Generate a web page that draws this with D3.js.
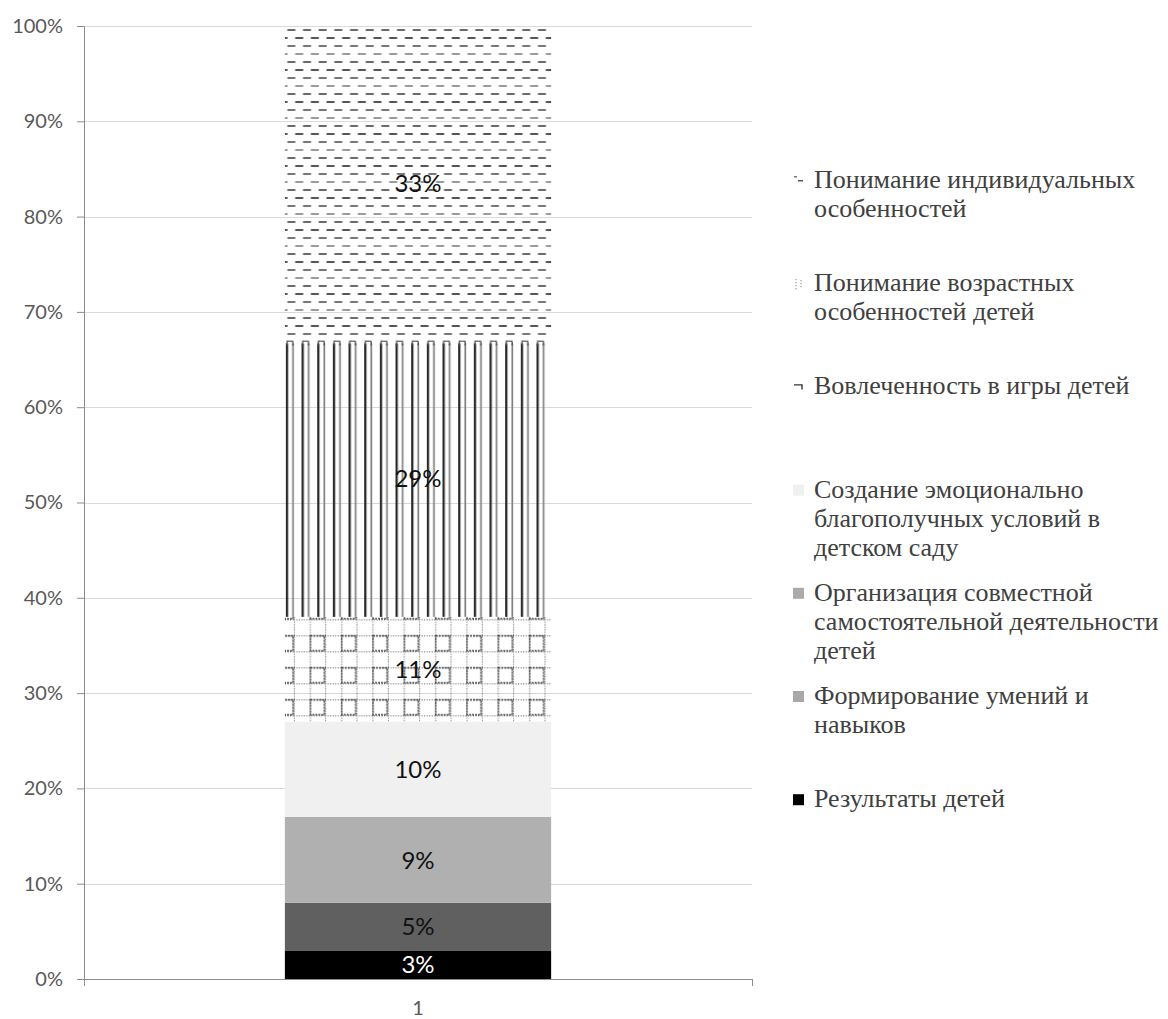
<!DOCTYPE html>
<html>
<head>
<meta charset="utf-8">
<script src="https://cdn.jsdelivr.net/npm/d3@7"></script>
<style>
  body { margin: 0; background: #fff; }
  svg { display: block; }
  .legend text { font-family: "Liberation Serif", "Times New Roman", "DejaVu Serif", serif; }
</style>
</head>
<body>
<svg width="1168" height="1019"></svg>
<script>
// data, bottom of the stack first
var categories = ["1"];
var seriesNames = [
    "Результаты детей",
    "Формирование умений и навыков",
    "Организация совместной самостоятельной деятельности детей",
    "Создание эмоционально благополучных условий в детском саду",
    "Вовлеченность в игры детей",
    "Понимание возрастных особенностей детей",
    "Понимание индивидуальных особенностей"
];
var seriesValues = [3, 5, 9, 10, 11, 29, 33];
var yTicks = [0, 10, 20, 30, 40, 50, 60, 70, 80, 90, 100];

var fills = ["#000000", "#606060", "#b0b0b0", "#f0f0f0", "url(#pGrid)", "url(#pVert)", "url(#pDash)"];
var legendFills = ["#000000", "#a8a8a8", "#ababab", "#f0f0f0", null, null, null];
var labelColors = ["#ffffff", "#111", "#111", "#111", "#111", "#111", "#111"];

var svg = d3.select('svg');

var scaleX = d3.scaleBand().domain(categories).range([84, 752]).paddingInner(0.43).paddingOuter(0.43);
var scaleY = d3.scaleLinear().domain([0, 100]).range([979, 26]);

var barX = scaleX("1");
var barW = scaleX.bandwidth();

// stack
var rows = [{}];
seriesNames.forEach(function(n, i) { rows[0][n] = seriesValues[i]; });
var stacked = d3.stack().keys(seriesNames)(rows);

// patterns
var defs = svg.append('defs');
var period = barW / 17;

var pDash = defs.append('pattern').attr('id', 'pDash')
    .attr('patternUnits', 'userSpaceOnUse')
    .attr('x', barX).attr('y', scaleY(100) + 1)
    .attr('width', period).attr('height', 32);
[[2, 0, '#6a6a6a'], [10, 0.5, '#555'], [18, 0, '#777'], [26, 0.5, '#9a9a9a']].forEach(function(r) {
    var off = r[1] * period;
    pDash.append('rect').attr('x', off + 2.5).attr('y', r[0]).attr('width', 8).attr('height', 2).attr('fill', r[2]);
    pDash.append('rect').attr('x', off + 2.5 - period).attr('y', r[0]).attr('width', 8).attr('height', 2).attr('fill', r[2]);
});

var pVert = defs.append('pattern').attr('id', 'pVert')
    .attr('patternUnits', 'userSpaceOnUse')
    .attr('x', barX + 1).attr('y', 0)
    .attr('width', period).attr('height', 10);
pVert.append('rect').attr('x', 0).attr('y', 0).attr('width', 2.3).attr('height', 10).attr('fill', '#2a2a2a');
pVert.append('rect').attr('x', 6.3).attr('y', 0).attr('width', 1.7).attr('height', 10).attr('fill', '#808080');

var pCap = defs.append('pattern').attr('id', 'pCap')
    .attr('patternUnits', 'userSpaceOnUse')
    .attr('x', barX + 1).attr('y', 0)
    .attr('width', period).attr('height', 10);
pCap.append('path').attr('d', 'M1.1,10 V2.5 Q1.1,1 2.6,1 H5.5 Q7.1,1 7.1,2.5 V10')
    .attr('fill', 'none').attr('stroke', '#555').attr('stroke-width', 1.4);

var gridTop = scaleY(38) + 2.5;
var pGrid = defs.append('pattern').attr('id', 'pGrid')
    .attr('patternUnits', 'userSpaceOnUse')
    .attr('x', barX + 9).attr('y', gridTop)
    .attr('width', 2 * period).attr('height', 32);
[0, 16].forEach(function(v) {
    pGrid.append('line').attr('x1', 0).attr('x2', 2 * period).attr('y1', v + 0.5).attr('y2', v + 0.5)
        .attr('stroke', '#555').attr('stroke-dasharray', '1,1.5');
    pGrid.append('line').attr('x1', v + 0.5).attr('x2', v + 0.5).attr('y1', 0).attr('y2', 32)
        .attr('stroke', '#555').attr('stroke-dasharray', '1,1.5');
});
pGrid.append('rect').attr('x', 16.5).attr('y', 16.5).attr('width', 14).attr('height', 15)
    .attr('fill', 'none').attr('stroke', '#333').attr('stroke-width', 1.4).attr('stroke-dasharray', '2,1');

// gridlines
svg.append('g').selectAll('line').data(yTicks.slice(1)).enter().append('line')
    .attr('x1', 84).attr('x2', 752)
    .attr('y1', function(d) { return Math.round(scaleY(d)) + 0.5; })
    .attr('y2', function(d) { return Math.round(scaleY(d)) + 0.5; })
    .attr('stroke', '#d9d9d9');

// bars
var segs = svg.append('g').selectAll('g').data(stacked).enter().append('g');
segs.append('rect')
    .attr('x', barX)
    .attr('width', barW)
    .attr('y', function(d) { return scaleY(d[0][1]); })
    .attr('height', function(d) { return scaleY(d[0][0]) - scaleY(d[0][1]); })
    .attr('fill', function(d, i) { return fills[i]; });

// caps on the vertical-line pattern
var vs = stacked[5][0];
svg.append('rect')
    .attr('x', barX).attr('width', barW)
    .attr('y', scaleY(vs[1])).attr('height', 3)
    .attr('fill', '#fff');
svg.append('rect')
    .attr('x', barX).attr('width', barW)
    .attr('y', scaleY(vs[1])).attr('height', 5)
    .attr('fill', 'url(#pCap)');

// data labels
svg.append('g').selectAll('text').data(stacked).enter().append('text')
    .attr('x', barX + barW / 2)
    .attr('y', function(d) { return (scaleY(d[0][0]) + scaleY(d[0][1])) / 2; })
    .attr('dy', '0.36em')
    .attr('text-anchor', 'middle')
    .attr('font-family', 'Lato, Carlito, sans-serif')
    .attr('font-size', 24)
    .attr('fill', function(d, i) { return labelColors[i]; })
    .text(function(d, i) { return seriesValues[i] + '%'; });

// axes
var yAxis = svg.append('g').attr('transform', 'translate(84,0)')
    .call(d3.axisLeft(scaleY).tickValues(yTicks).tickSize(7).tickPadding(14)
        .tickFormat(function(d) { return d + '%'; }));
var xAxis = svg.append('g').attr('transform', 'translate(0,979)')
    .call(d3.axisBottom(scaleX).tickSize(0).tickPadding(22));
[yAxis, xAxis].forEach(function(a) {
    a.select('.domain').attr('stroke', '#8c8c8c');
    a.selectAll('line').attr('stroke', '#8c8c8c');
    a.selectAll('text').attr('font-family', 'Lato, Carlito, sans-serif').attr('font-size', 20).attr('fill', '#595959');
});
xAxis.select('.domain').attr('d', 'M84,0.5H752');
xAxis.append('line').attr('x1', 84.5).attr('x2', 84.5).attr('y1', 0).attr('y2', 7).attr('stroke', '#8c8c8c');
xAxis.append('line').attr('x1', 752.5).attr('x2', 752.5).attr('y1', 0).attr('y2', 7).attr('stroke', '#8c8c8c');

// legend, top entry is the last series
var legendX = 814, legendTop = 188, legendStep = 103.2, lineH = 29, maxW = 366;
var legend = svg.append('g').attr('class', 'legend')
    .attr('font-size', 26).attr('fill', '#404040');

seriesNames.slice().reverse().forEach(function(name, k) {
    var i = seriesNames.length - 1 - k;
    var y0 = legendTop + k * legendStep;
    var t = legend.append('text').attr('x', legendX).attr('y', y0);
    var words = name.split(' ');
    var line = [], tspan = t.append('tspan').attr('x', legendX).attr('y', y0), n = 0;
    words.forEach(function(w) {
        line.push(w);
        tspan.text(line.join(' '));
        if (tspan.node().getComputedTextLength() > maxW && line.length > 1) {
            line.pop();
            tspan.text(line.join(' '));
            line = [w];
            n++;
            tspan = t.append('tspan').attr('x', legendX).attr('y', y0 + n * lineH).text(w);
        }
    });
    var mk = legend.append('g').attr('transform', 'translate(793,' + (y0 - 13) + ')');
    if (legendFills[i]) {
        mk.append('rect').attr('width', 11).attr('height', 11).attr('fill', legendFills[i]);
    } else if (i === 6) {
        mk.append('rect').attr('x', 1).attr('y', 1).attr('width', 3).attr('height', 1.5).attr('fill', '#777');
        mk.append('rect').attr('x', 5).attr('y', 5).attr('width', 5).attr('height', 1.5).attr('fill', '#555');
    } else if (i === 5) {
        mk.append('line').attr('x1', 3).attr('x2', 3).attr('y1', 1).attr('y2', 11).attr('stroke', '#666').attr('stroke-dasharray', '1,2');
        mk.append('line').attr('x1', 8).attr('x2', 8).attr('y1', 2).attr('y2', 11).attr('stroke', '#666').attr('stroke-dasharray', '1,2');
    } else {
        mk.append('path').attr('d', 'M1,3.5H9V8').attr('fill', 'none').attr('stroke', '#333').attr('stroke-width', 1.4);
    }
});
</script>
</body>
</html>
